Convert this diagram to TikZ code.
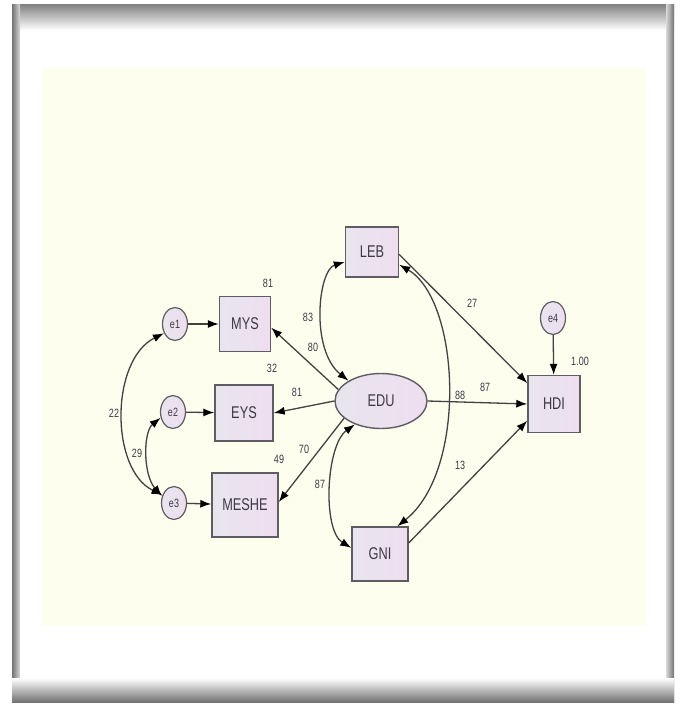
\documentclass[tikz,border=0pt]{standalone}
\usepackage{fontspec}
\setmainfont{Liberation Sans}
\newfontfamily\narrowsans[FakeStretch=0.75]{Liberation Sans}
\usetikzlibrary{arrows.meta,shapes.geometric}
\definecolor{cream}{RGB}{254,254,238}
\definecolor{boxfillA}{RGB}{232,229,238}
\definecolor{boxfillB}{RGB}{238,222,240}
\definecolor{boxline}{RGB}{96,92,100}
\definecolor{ink}{RGB}{62,56,70}
\definecolor{wire}{RGB}{66,66,66}

\begin{document}
\begin{tikzpicture}[x=1pt,y=-1pt,
  obsbox/.style={rectangle, draw=boxline, line width=1.4pt,
    left color=boxfillA, right color=boxfillB, text=ink,
    font=\narrowsans\fontsize{17}{17}\selectfont, inner sep=0pt},
  errnode/.style={ellipse, draw=boxline, line width=1.2pt,
    left color=boxfillA, right color=boxfillB,
    minimum width=25pt, minimum height=33pt, inner sep=0pt,
    font=\narrowsans\fontsize{12}{12}\selectfont, text=ink},
  latnode/.style={ellipse, draw=boxline, line width=1.4pt,
    left color=boxfillA, right color=boxfillB,
    minimum width=92pt, minimum height=55pt, inner sep=0pt,
    font=\narrowsans\fontsize{17}{17}\selectfont, text=ink},
  regarrow/.style={draw=wire, line width=1.3pt,
    -{Latex[length=11pt,width=8pt,color=black]}},
  covarrow/.style={draw=wire, line width=1.3pt,
    {Latex[length=11pt,width=8pt,color=black]}-{Latex[length=11pt,width=8pt,color=black]}},
  estlab/.style={font=\narrowsans\fontsize{12}{12}\selectfont, text=ink, inner sep=0pt}]

% page and window frame
\useasboundingbox (0,0) rectangle (680,704);
\fill[white] (0,0) rectangle (680,704);
\shade[top color=black!50, bottom color=white] (13,4) rectangle (674,30);
\shade[left color=black!55, right color=black!15] (12,4) rectangle (20,702);
\shade[left color=black!15, right color=black!55] (666,4) rectangle (674,702);
\shade[top color=white, bottom color=black!55] (12,678) rectangle (674,702);
\fill[white] (20,30) rectangle (666,678);
\fill[cream] (42,68) rectangle (646,626);

% observed variables
\node[obsbox, minimum width=53pt, minimum height=50pt] (LEB) at (372,252) {LEB};
\node[obsbox, minimum width=51pt, minimum height=55pt] (MYS) at (245,324) {MYS};
\node[obsbox, minimum width=58pt, minimum height=56pt] (EYS) at (244,413) {EYS};
\node[obsbox, minimum width=66pt, minimum height=64pt] (MESHE) at (245,505) {MESHE};
\node[obsbox, minimum width=56pt, minimum height=54pt] (GNI) at (380,554) {GNI};
\node[obsbox, minimum width=52pt, minimum height=57pt] (HDI) at (554,404) {HDI};

% latent variable and error terms
\node[latnode] (EDU) at (381,401) {EDU};
\node[errnode] (e1) at (175,324) {e1};
\node[errnode] (e2) at (173,412) {e2};
\node[errnode] (e3) at (174,503) {e3};
\node[errnode] (e4) at (553,318) {e4};

% error paths
\draw[regarrow] (e1) -- (MYS);
\draw[regarrow] (e2) -- (EYS);
\draw[regarrow] (e3) -- (MESHE);
\draw[regarrow] (e4) -- (HDI);

% loadings of EDU
\draw[regarrow] (EDU.165) -- (MYS.-8);
\draw[regarrow] (EDU.180) -- (EYS.east);
\draw[regarrow] (EDU.205) -- (MESHE.5);

% structural paths to HDI
\draw[regarrow] (LEB.-5) -- (HDI.142);
\draw[regarrow] (EDU.east) -- (HDI.west);
\draw[regarrow] (GNI.21) -- (HDI.212);

% covariances
\draw[covarrow] (LEB.200) .. controls (318,270) and (310,350) .. (EDU.148);
\draw[covarrow] (LEB.-25) .. controls (460,300) and (468,470) .. (GNI.58);
\draw[covarrow] (EDU.222) .. controls (326,445) and (322,530) .. (GNI.168);
\draw[covarrow] (e1.220) .. controls (110,360) and (110,470) .. (e3.145);
\draw[covarrow] (e2.205) .. controls (143,432) and (143,475) .. (e3.150);

% estimates
\node[estlab] (r1) at (268,283) {81};
\node[estlab] (r2) at (272,368) {32};
\node[estlab] (r3) at (297,392) {81};
\node[estlab] (r4) at (279,459) {49};
\node[estlab] (r5) at (304,449) {70};
\node[estlab] (r6) at (308,317) {83};
\node[estlab] (r7) at (313,347) {80};
\node[estlab] (r8) at (114,413) {22};
\node[estlab] (r9) at (137,453) {29};
\node[estlab] (r10) at (472,303) {27};
\node[estlab] (r11) at (460,395) {88};
\node[estlab] (r12) at (485,387) {87};
\node[estlab] (r13) at (460,465) {13};
\node[estlab] (r14) at (320,484) {87};
\node[estlab] (r15) at (580,361) {1.00};
\end{tikzpicture}
\end{document}
